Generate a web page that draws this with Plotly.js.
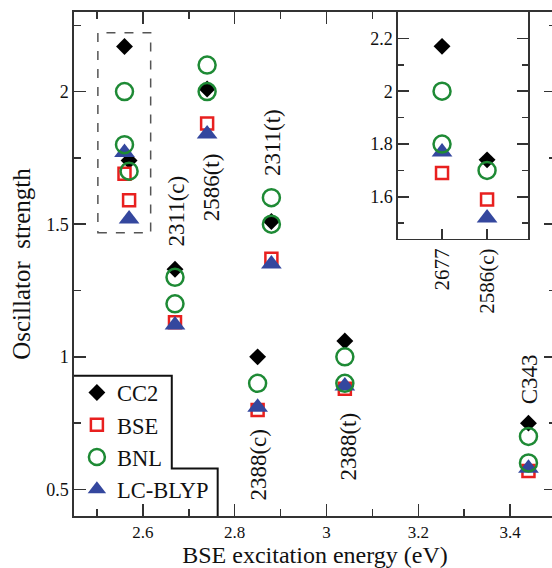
<!DOCTYPE html>
<html>
<head>
<meta charset="utf-8">
<script src="https://cdn.plot.ly/plotly-3.0.1.min.js"></script>
<style>
html,body{margin:0;padding:0;overflow:hidden;background:#fff;}
#chart{width:556px;height:568px;}
</style>
</head>
<body>
<div id="chart"></div>
<script>
// ---- data ----
var molecules = ['2677', '2586(c)', '2311(c)', '2586(t)', '2388(c)', '2311(t)', '2388(t)', 'C343'];
var energies  = [2.56, 2.57, 2.67, 2.74, 2.85, 2.88, 3.04, 3.44];
var cc2    = [2.17, 1.74, 1.33, 2.01, 1.00, 1.51, 1.06, 0.75];
var bse    = [1.69, 1.59, 1.13, 1.88, 0.80, 1.37, 0.88, 0.57];
var bnlA   = [2.00, 1.70, 1.30, 2.10, 0.90, 1.60, 1.00, 0.70];
var bnlB   = [1.80, null, 1.20, 2.00, null, 1.50, 0.90, 0.60];
var lcblyp = [1.77, 1.52, 1.12, 1.84, 0.81, 1.35, 0.89, 0.58];
var insetMolecules = [0, 1]; // indices of molecules shown in the inset

// ---- styles ----
var FONT = 'Liberation Serif, Times New Roman, serif';
var AX = '#333';
var styles = {
  CC2:     {symbol: 'diamond', size: 13, color: '#000000', line: {width: 0}},
  BSE:     {symbol: 'square-open', size: 12, color: '#e8201f', line: {width: 2.5, color: '#e8201f'}},
  BNL:     {symbol: 'circle-open', size: 17, color: '#1e8a35', line: {width: 2.5, color: '#1e8a35'}},
  'LC-BLYP': {symbol: 'triangle-up', size: 18, color: '#34479e', line: {width: 0}}
};

var bnlX = energies.concat(energies);
var bnlY = bnlA.concat(bnlB);

function mk(name, x, y, rank, xa, ya, show) {
  var s = styles[name];
  return {
    type: 'scatter', mode: 'markers', name: name, x: x, y: y,
    xaxis: xa, yaxis: ya, showlegend: show, legendrank: rank,
    cliponaxis: false,
    marker: {symbol: s.symbol, size: s.size, color: s.color, line: s.line}
  };
}

var insX = [], insCC2 = [], insBSE = [], insBNL = [], insBNLx = [], insLC = [];
insetMolecules.forEach(function (i, k) {
  insX.push(k);
  insCC2.push(cc2[i]); insBSE.push(bse[i]); insLC.push(lcblyp[i]);
  insBNLx.push(k); insBNL.push(bnlA[i]);
  if (bnlB[i] !== null) { insBNLx.push(k); insBNL.push(bnlB[i]); }
});

var traces = [
  mk('CC2', energies, cc2, 1, 'x', 'y', true),
  mk('BSE', energies, bse, 2, 'x', 'y', true),
  mk('LC-BLYP', energies, lcblyp, 4, 'x', 'y', true),
  mk('BNL', bnlX, bnlY, 3, 'x', 'y', true),
  mk('CC2', insX, insCC2, 10, 'x2', 'y2', false),
  mk('BSE', insX, insBSE, 10, 'x2', 'y2', false),
  mk('LC-BLYP', insX, insLC, 10, 'x2', 'y2', false),
  mk('BNL', insBNLx, insBNL, 10, 'x2', 'y2', false)
];

// label placement for molecules shown in the main panel
var labelPos = {
  '2311(c)': [2.674, 1.551],
  '2586(t)': [2.750, 1.638],
  '2311(t)': [2.881, 1.809],
  '2388(c)': [2.851, 0.594],
  '2388(t)': [3.047, 0.662],
  'C343':    [3.443, 0.915]
};
var annotations = Object.keys(labelPos).map(function (m) {
  return {
    text: m, x: labelPos[m][0], y: labelPos[m][1], xref: 'x', yref: 'y',
    textangle: -90, showarrow: false, font: {family: FONT, size: 23, color: '#111'}
  };
});

var tickFont = {family: FONT, size: 18, color: '#111'};
var layout = {
  width: 556, height: 568,
  margin: {l: 74, r: 0, t: 12.4, b: 51.5},
  paper_bgcolor: '#fff', plot_bgcolor: '#fff',
  font: {family: FONT, color: '#111'},
  showlegend: true,
  legend: {
    x: 0.006, xanchor: 'left', y: 0.287, yanchor: 'top',
    bgcolor: 'rgba(0,0,0,0)', borderwidth: 0,
    font: {family: FONT, size: 22.5, color: '#111'},
    tracegroupgap: 0
  },
  xaxis: {
    range: [2.45, 3.5], dtick: 0.2, tick0: 0, ticks: 'inside', ticklen: 12, tickwidth: 1.5,
    tickcolor: AX, showline: true, linecolor: AX, linewidth: 1.6, mirror: 'ticks',
    showgrid: false, zeroline: false, tickfont: {family: FONT, size: 17, color: '#111'},
    minor: {dtick: 0.1, ticklen: 7, ticks: 'inside', tickwidth: 1.5, tickcolor: AX},
    title: {text: 'BSE excitation energy (eV)', font: {family: FONT, size: 24, color: '#111'}, standoff: 11}
  },
  yaxis: {
    range: [0.4, 2.3], dtick: 0.5, tick0: 0, ticks: 'inside', ticklen: 12, tickwidth: 1.5,
    tickcolor: AX, showline: true, linecolor: AX, linewidth: 1.6, mirror: 'ticks',
    showgrid: false, zeroline: false, tickfont: tickFont,
    minor: {dtick: 0.25, ticklen: 7, ticks: 'inside', tickwidth: 1.5, tickcolor: AX},
    title: {text: 'Oscillator\u00a0 strength', font: {family: FONT, size: 25, color: '#111'}, standoff: 8}
  },
  xaxis2: {
    domain: [0.672, 0.942], anchor: 'y2', range: [-0.98, 1.91],
    tickvals: insX, ticktext: insetMolecules.map(function (i) { return molecules[i]; }),
    tickangle: -90, ticks: 'inside', ticklen: 10, tickwidth: 1.5, tickcolor: AX,
    showline: true, linecolor: AX, linewidth: 1.6, mirror: true,
    showgrid: false, zeroline: false, tickfont: {family: FONT, size: 21, color: '#111'}
  },
  yaxis2: {
    domain: [0.5505, 1], anchor: 'x2', range: [1.442, 2.3], dtick: 0.2, tick0: 0,
    ticks: 'inside', ticklen: 11, tickwidth: 1.5, tickcolor: AX,
    showline: true, linecolor: AX, linewidth: 1.6, mirror: 'ticks',
    showgrid: false, zeroline: false, tickfont: tickFont,
    minor: {dtick: 0.1, ticklen: 6, ticks: 'inside', tickwidth: 1.5, tickcolor: AX}
  },
  shapes: [
    {type: 'rect', xref: 'x', yref: 'y', x0: 2.502, x1: 2.617, y0: 1.468, y1: 2.222,
     line: {color: '#555', width: 1.5, dash: 'dash'}, fillcolor: 'rgba(0,0,0,0)'},
    {type: 'path', xref: 'x', yref: 'y',
     path: 'M 2.45 0.929 L 2.663 0.929 L 2.663 0.579 L 2.763 0.579 L 2.763 0.4',
     line: {color: '#111', width: 2}},
    {type: 'rect', xref: 'paper', yref: 'paper', x0: 0.6755, x1: 0.9385, y0: 0.965, y1: 0.9975,
     line: {width: 0}, fillcolor: '#fff', layer: 'above'}
  ],
  annotations: annotations
};

Plotly.newPlot('chart', traces, layout, {displayModeBar: false, staticPlot: true});
</script>
</body>
</html>
